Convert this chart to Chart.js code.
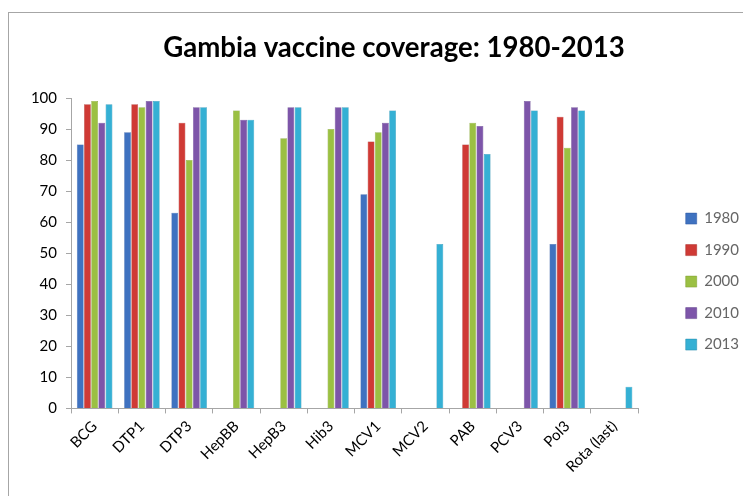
<!DOCTYPE html>
<html>
<head>
<meta charset="utf-8">
<title>Gambia vaccine coverage</title>
<script src="https://cdn.jsdelivr.net/npm/chart.js@4.4.1/dist/chart.umd.min.js"></script>
<style>
  html, body { margin: 0; background: #fff; overflow: hidden; }
  .frame {
    position: absolute; left: 8px; top: 12px;
    width: 780px; height: 520px;
    border: 1px solid #a6a6a6;
  }
  #chart { position: absolute; left: 0; top: 0; }
</style>
</head>
<body>
<div class="frame"></div>
<!-- the original chart is a bit wider than the window, so the canvas is too -->
<canvas id="chart" width="788" height="496"></canvas>
<script>
// vaccines on the x axis
const vaccines = ["BCG", "DTP1", "DTP3", "HepBB", "HepB3", "Hib3", "MCV1", "MCV2", "PAB", "PCV3", "Pol3", "Rota (last)"];

// coverage (%) per year
const cov1980 = [85, 89, 63, 0, 0, 0, 69, 0, 0, 0, 53, 0];
const cov1990 = [98, 98, 92, 0, 0, 0, 86, 0, 85, 0, 94, 0];
const cov2000 = [99, 97, 80, 96, 87, 90, 89, 0, 92, 0, 84, 0];
const cov2010 = [92, 99, 97, 93, 97, 97, 92, 0, 91, 99, 97, 0];
const cov2013 = [98, 99, 97, 93, 97, 97, 96, 53, 82, 96, 96, 7];

const yTicks = [0, 10, 20, 30, 40, 50, 60, 70, 80, 90, 100];

const FONT = "Lato, 'Open Sans', sans-serif";

// cylinder-ish shading like the Excel 3D columns
function shade(base, dark, light) {
  return (ctx) => {
    const el = ctx.element;
    if (!el || el.width === undefined || isNaN(el.x)) return base;
    const c = ctx.chart.ctx;
    const x0 = el.x - el.width / 2, x1 = el.x + el.width / 2;
    const g = c.createLinearGradient(x0, 0, x1, 0);
    g.addColorStop(0, dark);
    g.addColorStop(0.45, light);
    g.addColorStop(1, dark);
    return g;
  };
}

const series = [
  { label: "1980", data: cov1980, base: "#3f72c0", dark: "#2c57a0", light: "#4f86d4" },
  { label: "1990", data: cov1990, base: "#cf3a35", dark: "#a82a26", light: "#e0504a" },
  { label: "2000", data: cov2000, base: "#9bc043", dark: "#7c9c2e", light: "#acd054" },
  { label: "2010", data: cov2010, base: "#7d55a9", dark: "#5f3f88", light: "#9068bc" },
  { label: "2013", data: cov2013, base: "#35b0d4", dark: "#2089ab", light: "#48c3e4" },
];

// empty axis used only as spacing
const spacer = (w, weight) => ({
  type: "linear",
  position: "right",
  display: true,
  weight: weight,
  afterFit: (scale) => { scale.width = w; },
  grid: { display: false },
  border: { display: false },
  ticks: { display: false },
});

new Chart(document.getElementById("chart"), {
  type: "bar",
  data: {
    labels: vaccines,
    datasets: series.map((s) => ({
      label: s.label,
      data: s.data,
      backgroundColor: shade(s.base, s.dark, s.light),
      borderColor: s.dark,
      borderWidth: 0.5,
      categoryPercentage: 0.76,
      barPercentage: 0.95,
    })),
  },
  options: {
    responsive: false,
    animation: false,
    layout: { padding: { left: 0, right: 0, top: 0, bottom: 16 } },
    plugins: {
      title: {
        display: true,
        text: "Gambia vaccine coverage: 1980-2013",
        color: "#000",
        font: { family: FONT, size: 27.6, weight: "bold" },
        padding: { top: 31.5, bottom: 33.4 },
      },
      legend: {
        position: "right",
        title: { display: true, text: " ", font: { size: 1 }, padding: { top: 0, bottom: 82 } },
        labels: {
          color: "#000",
          font: { family: FONT, size: 15 },
          boxWidth: 11,
          boxHeight: 11,
          padding: 16.5,
          generateLabels: (chart) =>
            chart.data.datasets.map((d, i) => ({
              text: d.label,
              fillStyle: series[i].base,
              strokeStyle: series[i].dark,
              lineWidth: 0.5,
              datasetIndex: i,
            })),
        },
      },
      tooltip: { enabled: false },
    },
    scales: {
      x: {
        grid: { display: true, drawOnChartArea: false, offset: true, color: "#a6a6a6", tickLength: 5 },
        border: { color: "#a6a6a6" },
        ticks: {
          color: "#000",
          font: { family: FONT, size: 15 },
          maxRotation: 45,
          minRotation: 45,
          padding: 4,
        },
      },
      y: {
        min: 0,
        max: 100,
        afterBuildTicks: (scale) => { scale.ticks = yTicks.map((v) => ({ value: v })); },
        afterFit: (scale) => { scale.width = 71; },
        grid: { display: true, drawOnChartArea: false, color: "#a6a6a6", tickLength: 5 },
        border: { color: "#a6a6a6" },
        ticks: { color: "#000", font: { family: FONT, size: 15 }, padding: 9 },
      },
      gapInner: spacer(31, 0),    // between plot and legend
      gapOuter: spacer(39, 2000), // right of the legend, past the window edge
    },
  },
});
</script>
</body>
</html>
